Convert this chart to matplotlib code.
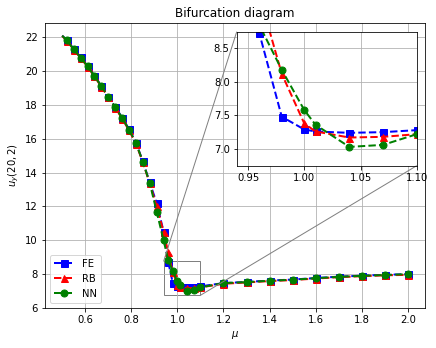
import numpy as np
import matplotlib
matplotlib.use('Agg')
import matplotlib.pyplot as plt
from mpl_toolkits.axes_grid1.inset_locator import mark_inset

# parametre mu et valeurs u_y(20,2)
mu = [0.50, 0.52, 0.55, 0.58, 0.61, 0.64, 0.67, 0.70, 0.73, 0.76, 0.79,
      0.82, 0.85, 0.88, 0.91, 0.94, 0.96, 0.98, 1.00, 1.01, 1.04, 1.07,
      1.10, 1.2, 1.3, 1.4, 1.5, 1.6, 1.7, 1.8, 1.9, 2.0]

fe = [22.10, 21.84, 21.32, 20.82, 20.31, 19.73, 19.13, 18.50, 17.89, 17.26, 16.57,
      15.78, 14.67, 13.42, 12.20, 10.52, 8.73, 7.48, 7.29, 7.26, 7.24, 7.25,
      7.28, 7.47, 7.54, 7.62, 7.68, 7.77, 7.85, 7.91, 7.96, 8.00]

rb = [22.08, 21.80, 21.28, 20.78, 20.27, 19.69, 19.08, 18.45, 17.84, 17.20, 16.50,
      15.72, 14.62, 13.36, 12.02, 10.50, 9.30, 8.12, 7.38, 7.26, 7.17, 7.18,
      7.22, 7.43, 7.51, 7.59, 7.65, 7.74, 7.82, 7.88, 7.93, 7.96]

nn = [22.10, 21.82, 21.30, 20.80, 20.30, 19.71, 19.11, 18.48, 17.87, 17.24, 16.55,
      15.76, 14.65, 13.38, 11.70, 10.00, 8.85, 8.18, 7.58, 7.36, 7.03, 7.06,
      7.22, 7.47, 7.53, 7.61, 7.67, 7.76, 7.84, 7.90, 7.95, 8.00]

series = [('FE', fe, 'b', 's'), ('RB', rb, 'r', '^'), ('NN', nn, 'g', 'o')]
marks = list(range(1, len(mu)))

fig = plt.figure(figsize=(436/72, 348/72), dpi=72)
ax = fig.add_axes([0.103, 0.115, 0.872, 0.819])

for name, vals, c, m in series:
    ax.plot(mu, vals, color=c, ls='--', lw=2, marker=m, ms=7, markevery=marks, label=name)

ax.set_ylim(6, 22.85)
ax.set_yticks(range(6, 23, 2))
ax.grid(True)
ax.set_title('Bifurcation diagram')
ax.set_xlabel(r'$\mu$')
ax.set_ylabel(r'$u_y(20,2)$')
ax.legend(loc='lower left')

axins = fig.add_axes([0.543, 0.524, 0.413, 0.385])
for name, vals, c, m in series:
    axins.plot(mu, vals, color=c, ls='--', lw=2, marker=m, ms=7, markevery=marks)
axins.set_xlim(0.94, 1.10)
axins.set_ylim(6.75, 8.75)
axins.set_xticks([0.95, 1.00, 1.05, 1.10])
axins.set_yticks([7.0, 7.5, 8.0, 8.5])
axins.grid(True)
mark_inset(ax, axins, loc1=2, loc2=4, fc='none', ec='0.5')

fig.savefig('out.png', dpi=72)
